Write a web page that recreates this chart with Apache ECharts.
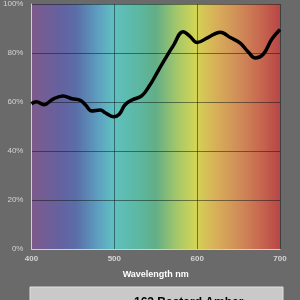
<!DOCTYPE html>
<html>
<head>
<meta charset="utf-8">
<script src="https://cdn.jsdelivr.net/npm/echarts@6/dist/echarts.min.js"></script>
<style>
  html, body { margin: 0; padding: 0; background: #6a6a6a; }
  #chart { width: 300px; height: 300px; }
</style>
</head>
<body>
<div id="chart"></div>
<script>
// wavelength (nm) and transmission (%)
const wavelengths = [400, 406, 415, 426, 438, 449, 459, 465, 473, 483, 489, 499, 506, 513, 522, 533, 543, 550, 559, 571, 583, 591, 600, 613, 628, 640, 652, 662, 670, 680, 690, 700];
const transmission = [59.3, 60.1, 58.9, 61.2, 62.5, 61.3, 60.7, 58.9, 56.3, 56.7, 55.6, 54, 55, 58.9, 60.9, 62.5, 66.9, 71, 76.3, 82.9, 88.7, 86.9, 84.3, 86.3, 88.5, 86.3, 84, 80.3, 78, 79.6, 85.6, 89.6];
const seriesName = "162 Bastard Amber";

const chart = echarts.init(document.getElementById("chart"));

// spectrum behind the plot
const spectrum = new echarts.graphic.LinearGradient(0, 0, 1, 0, [
  { offset: 0.0, color: "#7e5a8c" },
  { offset: 0.12, color: "#6462a0" },
  { offset: 0.18, color: "#5a6ea8" },
  { offset: 0.28, color: "#5ea6c2" },
  { offset: 0.33, color: "#5fc0c0" },
  { offset: 0.43, color: "#5cb8a2" },
  { offset: 0.5, color: "#62ae88" },
  { offset: 0.59, color: "#a8c868" },
  { offset: 0.66, color: "#d2d455" },
  { offset: 0.74, color: "#d8b058" },
  { offset: 0.84, color: "#d08a58" },
  { offset: 0.92, color: "#c86850" },
  { offset: 1.0, color: "#b84646" },
]);

chart.setOption({
  backgroundColor: "#6a6a6a",
  animation: false,
  grid: {
    left: 31,
    right: 20,
    top: -1,
    bottom: 51,
    show: true,
    backgroundColor: spectrum,
    borderWidth: 0,
  },
  graphic: [
    {
      type: "rect",
      shape: { x: 30, y: 287, width: 253, height: 20 },
      style: { fill: "#c9c9c9", stroke: "#e0e0e0", lineWidth: 1 },
      z: 1,
    },
  ],
  legend: {
    data: [seriesName],
    left: 75,
    top: 292,
    itemWidth: 49,
    itemHeight: 4,
    icon: "rect",
    textStyle: {
      color: "#000",
      fontWeight: "bold",
      fontSize: 12,
      fontFamily: "Liberation Sans",
    },
    z: 5,
  },
  xAxis: {
    type: "value",
    min: 400,
    max: 700,
    interval: 100,
    name: "Wavelength nm",
    nameLocation: "middle",
    nameGap: 21,
    nameTextStyle: {
      color: "#fff",
      fontWeight: "bold",
      fontSize: 9,
      fontFamily: "Liberation Sans",
    },
    axisLine: { show: true, lineStyle: { color: "#d0d0d0", width: 1 } },
    axisTick: { show: false },
    axisLabel: {
      color: "#d4d4d4",
      fontSize: 8,
      fontWeight: "bold",
      fontFamily: "Liberation Sans",
      margin: 6,
    },
    splitLine: { show: true, lineStyle: { color: "rgba(10,20,20,0.5)", width: 1 } },
  },
  yAxis: {
    type: "value",
    min: 0,
    max: 100,
    interval: 20,
    axisLine: { show: true, lineStyle: { color: "#d0d0d0", width: 1 } },
    axisTick: { show: false },
    axisLabel: {
      formatter: "{value}%",
      color: "#d4d4d4",
      fontSize: 8,
      fontFamily: "Liberation Sans",
      margin: 8,
    },
    splitLine: { show: true, lineStyle: { color: "rgba(10,20,20,0.5)", width: 1 } },
  },
  series: [
    {
      name: seriesName,
      type: "line",
      data: wavelengths.map((w, i) => [w, transmission[i]]),
      smooth: 0.4,
      showSymbol: false,
      lineStyle: { color: "#000", width: 3.5 },
      itemStyle: { color: "#000" },
      z: 3,
    },
  ],
});
</script>
</body>
</html>
